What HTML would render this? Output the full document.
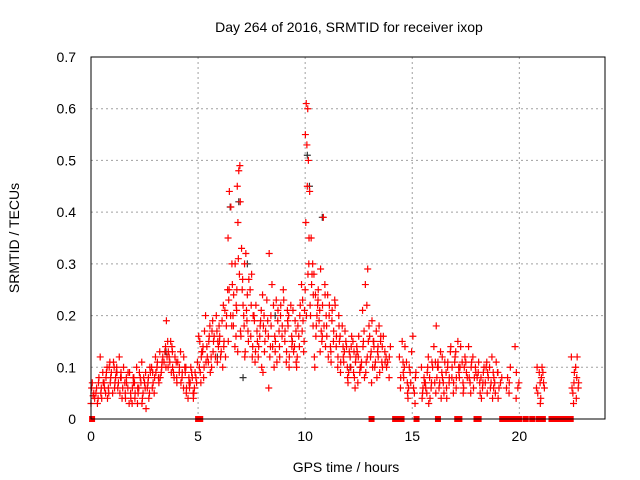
<!DOCTYPE html>
<html><head><meta charset="utf-8"><style>
body{margin:0;background:#fff}
svg{display:block;font-family:"Liberation Sans","DejaVu Sans",sans-serif}
</style></head><body>
<svg id="chart" width="640" height="480" viewBox="0 0 640 480">
<rect width="640" height="480" fill="#fff"/>
<text x="349" y="32" font-size="14" text-anchor="middle" fill="#000">Day 264 of 2016, SRMTID for receiver ixop</text>
<g id="grid"></g>
<g id="axes"></g>
<g id="marks"></g>
<rect x="91" y="57" width="514" height="362" fill="none" stroke="#000" stroke-width="1"/>
<text x="346" y="472" font-size="14" text-anchor="middle">GPS time / hours</text>
<text transform="translate(19,238) rotate(-90)" font-size="14" text-anchor="middle">SRMTID / TECUs</text>
</svg>
<script>
const xTicks=[0,5,10,15,20];
const yTicks=[0,0.1,0.2,0.3,0.4,0.5,0.6,0.7];
const yTickLabels=["0","0.1","0.2","0.3","0.4","0.5","0.6","0.7"];
const binTimes=[0,0.2,0.4,0.6,0.8,1.0,1.2,1.4,1.6,1.8,2.0,2.2,2.4,2.6,2.8,3.0,3.2,3.4,3.6,3.8,4.0,4.2,4.4,4.6,4.8,5.0,5.2,5.4,5.6,5.8,6.0,6.2,6.4,6.6,6.8,7.0,7.2,7.4,7.6,7.8,8.0,8.2,8.4,8.6,8.8,9.0,9.2,9.4,9.6,9.8,10.0,10.2,10.4,10.6,10.8,11.0,11.2,11.4,11.6,11.8,12.0,12.2,12.4,12.6,12.8,13.0,13.2,13.4,13.6,13.8,14.4,14.6,14.8,15.0,15.4,15.6,15.8,16.0,16.2,16.4,16.6,16.8,17.0,17.2,17.4,17.6,17.8,18.0,18.2,18.4,18.6,18.8,19.0,19.4,19.8,20.8,21.0,22.4,22.6];
const binValues=[
[.03,.05,.07,.04,.06,.045],[.04,.06,.08,.05,.03,.07],[.05,.07,.12,.04,.09,.06],[.04,.06,.08,.10,.05,.07,.09],[.05,.07,.09,.11,.06,.08,.10],
[.06,.08,.10,.05,.07,.11,.09],[.05,.07,.09,.12,.06,.08,.10],[.06,.08,.10,.04,.07,.09],[.04,.06,.08,.03,.05,.09,.07],[.03,.05,.07,.09,.06,.04,.08],
[.04,.06,.08,.10,.05,.03,.07],[.03,.05,.07,.09,.11,.06,.08],[.04,.06,.08,.02,.05,.07,.09],[.05,.07,.09,.06,.04,.10,.08],[.06,.08,.10,.07,.05,.09],
[.07,.09,.11,.08,.10,.12],[.08,.10,.12,.09,.13,.11],[.10,.12,.14,.11,.19,.13,.15],[.09,.11,.13,.15,.12,.14,.10],[.08,.10,.12,.09,.11,.13],
[.07,.09,.11,.13,.08,.10],[.06,.08,.10,.07,.12,.09],[.05,.07,.09,.04,.06,.08,.10],[.04,.06,.08,.10,.05,.07,.09],[.05,.07,.09,.11,.06,.08],
[.07,.10,.13,.16,.09,.12,.15],[.08,.11,.14,.17,.20,.10,.13],[.09,.12,.15,.18,.11,.14,.16],[.10,.13,.16,.19,.12,.15,.17],[.11,.14,.17,.12,.15,.20,.18],
[.10,.13,.16,.19,.12,.22,.15],[.12,.15,.18,.21,.25,.14,.20],[.15,.20,.25,.30,.35,.41,.44,.18,.23],[.14,.18,.22,.26,.30,.24,.16,.20],[.13,.17,.21,.28,.38,.42,.45,.48,.49,.31,.25],
[.12,.16,.20,.25,.30,.33,.22,.18,.27],[.13,.17,.21,.27,.32,.24,.15,.19],[.12,.16,.20,.25,.28,.14,.22],[.11,.15,.19,.22,.17,.13,.20],[.10,.14,.18,.21,.16,.12,.19],
[.09,.13,.17,.20,.24,.15,.18],[.06,.12,.16,.23,.32,.19,.14],[.10,.14,.18,.22,.26,.16,.20],[.11,.15,.19,.23,.17,.13,.21],[.12,.16,.20,.25,.14,.18,.22],
[.11,.15,.19,.23,.13,.17,.21],[.10,.14,.18,.22,.12,.16,.20],[.11,.15,.19,.13,.17,.21,.14],[.10,.14,.18,.22,.12,.16,.20],[.13,.17,.21,.26,.19,.15,.23],
[.20,.30,.38,.45,.50,.53,.55,.60,.61,.35,.25,.28],[.18,.22,.26,.30,.35,.44,.28,.20,.24],[.12,.16,.20,.24,.28,.18,.10,.22],[.13,.17,.21,.25,.29,.19,.15,.23],[.14,.18,.22,.26,.39,.20,.16,.24],
[.12,.16,.20,.24,.14,.18,.22],[.11,.15,.19,.23,.13,.17,.21],[.10,.14,.18,.22,.12,.16,.20],[.09,.12,.15,.18,.11,.14,.16],[.08,.11,.14,.17,.10,.13,.15],
[.07,.10,.13,.16,.09,.12,.14],[.06,.09,.12,.15,.08,.11,.13],[.07,.10,.13,.16,.09,.12,.14],[.08,.11,.14,.17,.21,.10,.15],[.09,.12,.15,.22,.26,.29,.11,.18],
[.07,.10,.13,.16,.19,.12,.15],[.08,.11,.14,.17,.10,.13,.15],[.09,.12,.15,.18,.11,.14,.16],[.10,.13,.16,.12,.14,.11],[.08,.11,.14,.10,.12],
[.06,.09,.12,.15,.08,.11],[.05,.08,.11,.14,.07,.10],[.04,.07,.10,.13,.06,.09],[.03,.06,.09,.16,.05,.08],[.04,.07,.10,.06,.08,.05],
[.03,.06,.09,.12,.05,.07,.10],[.04,.07,.10,.06,.08,.11],[.05,.08,.11,.14,.18,.07,.10],[.04,.07,.10,.13,.06,.09,.11],[.05,.08,.11,.07,.09,.12],
[.04,.07,.10,.13,.06,.08,.11],[.05,.08,.11,.14,.07,.10],[.06,.09,.12,.15,.08,.10,.13],[.05,.08,.11,.14,.07,.10],[.06,.09,.12,.08,.10,.11],
[.05,.08,.11,.14,.07,.10],[.06,.09,.12,.08,.10],[.05,.08,.11,.07,.09],[.04,.07,.10,.06,.08,.09],[.05,.08,.11,.07,.09,.10],
[.04,.07,.10,.12,.06,.09],[.05,.08,.11,.07,.09,.06],[.04,.07,.06,.08,.09],[.05,.08,.10,.06,.07],[.04,.07,.14,.06,.09],
[.03,.06,.09,.05,.07,.10],[.04,.07,.10,.06,.08,.09],[.03,.06,.09,.12,.05,.07],[.04,.07,.10,.12,.06,.08]];
const grayTimes=[6.5,6.9,7.1,7.3,10.1,10.2,10.8,8.6,9.4,5.9,12.1,3.5];
const grayValues=[0.41,0.42,0.08,0.30,0.51,0.45,0.39,0.20,0.15,0.12,0.10,0.13];
const zeroTimes=[0.05,5.0,5.1,13.1,14.2,14.3,14.4,14.5,15.2,16.2,17.1,17.2,18.0,18.1,19.2,19.3,19.5,19.7,19.9,20.0,20.3,20.6,20.9,21.1,21.5,21.7,21.8,22.0,22.2,22.4];

const ns="http://www.w3.org/2000/svg";
const X=t=>91+(t/24)*514;
const Y=v=>419-(v/0.7)*362;
const jitter=[0,0.13,0.06,0.17,0.03,0.10,0.15,0.08,0.01,0.12,0.05,0.18];
function mk(tag,attrs,parent){const e=document.createElementNS(ns,tag);for(const k in attrs)e.setAttribute(k,attrs[k]);parent.appendChild(e);return e;}
const grid=document.getElementById('grid'),axes=document.getElementById('axes'),marks=document.getElementById('marks');
xTicks.forEach(t=>{
  const x=X(t);
  if(t>0){const g=mk('line',{x1:x,x2:x,y1:57,y2:419,stroke:'#a0a0a0','stroke-dasharray':'2,3'},grid);
  
  }
  const l=mk('text',{x:x,y:441,'font-size':14,'text-anchor':'middle'},axes);l.textContent=t;
  
  
});
yTicks.forEach((v,i)=>{
  const y=Y(v);
  if(v>0&&v<0.7){const g=mk('line',{x1:91,x2:605,y1:y,y2:y,stroke:'#a0a0a0','stroke-dasharray':'2,3'},grid);
  
  }
  const l=mk('text',{x:76,y:y+5,'font-size':14,'text-anchor':'end'},axes);l.textContent=yTickLabels[i];
  
  
});
function plus(t,v,color){
  const x=X(t),y=Y(v);
  const p=mk('path',{d:`M${x-3.5},${y}h7M${x},${y-3.5}v7`,stroke:color,'stroke-width':1.2,fill:'none'},marks);
  
  
}
grayTimes.forEach((t,i)=>plus(t,grayValues[i],'#333'));
binTimes.forEach((t,i)=>{binValues[i].forEach((v,j)=>plus(t+jitter[(j+i)%jitter.length],v,'#f00'));});
zeroTimes.forEach(t=>{
  const r=mk('rect',{x:X(t)-3,y:Y(0)-3,width:6,height:6,fill:'#f00'},marks);
  
  
});
</script>
</body></html>
